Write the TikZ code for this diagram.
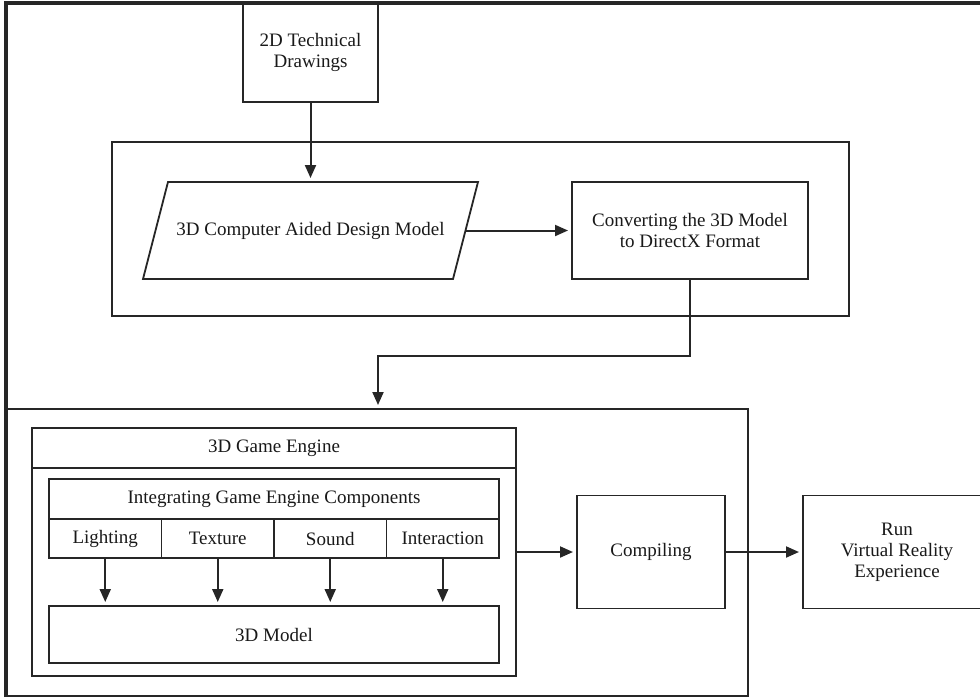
\documentclass[tikz,border=0pt]{standalone}
\usepackage{fontspec}
\setmainfont{Liberation Serif}
\usetikzlibrary{arrows.meta,calc}
\definecolor{ink}{RGB}{38,38,38}
\definecolor{txt}{RGB}{25,25,25}
\begin{document}
\begin{tikzpicture}[x=1pt,y=-1pt,
  box/.style={draw=ink, line width=1.8pt, rectangle, inner sep=0pt, outer sep=0pt,
    align=center, text=txt, font=\fontsize{19}{21}\selectfont},
  plain/.style={box, draw=none},
  arr/.style={draw=ink, line width=2pt, -{Triangle[length=13pt,width=11pt]}, shorten >=4pt},
  wire/.style={draw=ink, line width=1.8pt}]

\useasboundingbox (0,0) rectangle (980,697);
\clip (0,0) rectangle (980,697);
\fill[white] (0,0) rectangle (980,697);

% outer frame (top and left edges)
\draw[ink, line width=3.5pt] (6,697) -- (6,3) -- (980,3);

% modelling stage
\node[box, minimum width=135, minimum height=99] (tech) at (310.5,52.5) {2D Technical\\Drawings};
\node[box, minimum width=737, minimum height=174] (cadgroup) at (480.5,229) {};
\node[plain, minimum width=335, minimum height=97] (cad) at (310.5,230.5) {3D Computer Aided Design Model};
\draw[wire] ($(cad.north west)+(25,0)$) -- (cad.north east) -- ($(cad.south east)+(-25,0)$) -- (cad.south west) -- cycle;
\node[box, minimum width=236, minimum height=97] (conv) at (690,230.5) {Converting the 3D Model\\to DirectX Format};

% game engine stage
\node[box, minimum width=741, minimum height=287] (vrbox) at (377.5,552.5) {};
\node[box, minimum width=484, minimum height=248] (engine) at (274,552) {};
\node[box, minimum width=484, minimum height=40] (enginehead) at (274,448) {3D Game Engine};
\node[box, minimum width=450, minimum height=40] (integ) at (274,499) {Integrating Game Engine Components};
\node[box, minimum width=112.5, minimum height=39] (light) at (105.25,538.5) {Lighting};
\node[box, minimum width=112.5, minimum height=39] (tex) at (217.75,538.5) {Texture};
\node[box, minimum width=112.5, minimum height=39] (sound) at (330.25,538.5) {Sound};
\node[box, minimum width=112.5, minimum height=39] (inter) at (442.75,538.5) {Interaction};
\node[box, minimum width=450, minimum height=57] (model) at (274,634.5) {3D Model};
\node[box, minimum width=148, minimum height=113] (comp) at (651,552) {Compiling};
\node[box, minimum width=188, minimum height=113] (run) at (897,552) {Run\\Virtual Reality\\Experience};

% connectors
\coordinate (cadR) at ($(cad.east)+(-12.5,0)$);
\coordinate (bend) at (378,356);
\draw[arr] (tech) -- (cad);
\draw[arr] (cadR) -- (conv);
\draw[arr] (conv.south) |- (bend) -- (bend |- vrbox.north);
\foreach \c in {light,tex,sound,inter}
  \draw[arr] (\c.south) -- (\c.south |- model.north);
\draw[arr] (engine.east) -- (comp.west);
\draw[arr] (comp.east) -- (run.west);
\end{tikzpicture}
\end{document}
